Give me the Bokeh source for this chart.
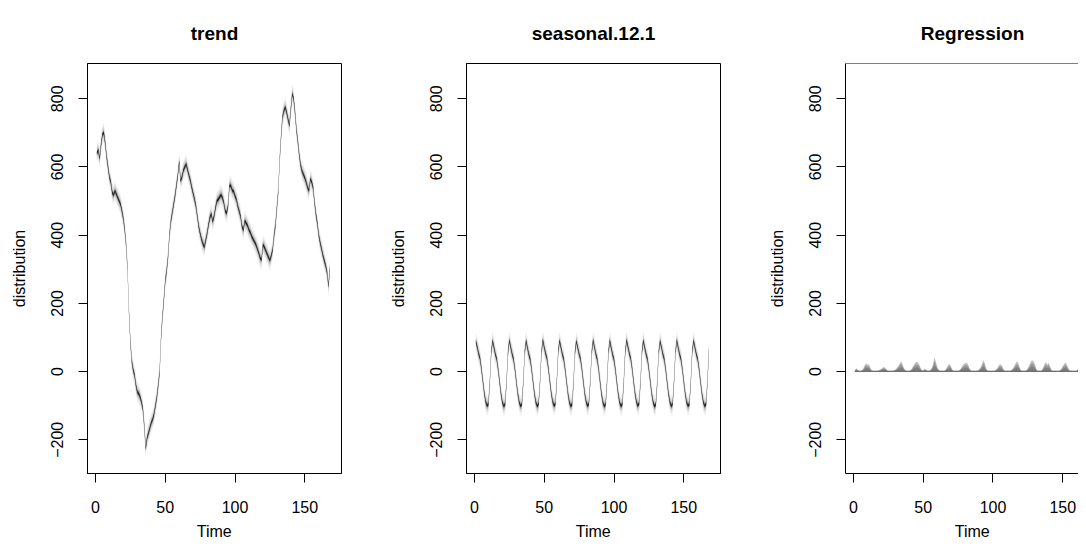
import numpy as np
from bokeh.plotting import figure
from bokeh.layouts import row
from bokeh.models import Range1d, FixedTicker, Span, Title
from bokeh.embed import file_html
from bokeh.resources import INLINE

# ---------------- data ----------------
time = list(range(1, 169))

trend = [
    640, 650, 625, 665, 695, 700, 670, 630, 600, 570, 555, 525,
    518, 530, 520, 510, 500, 490, 470, 448, 415, 370, 300, 175,
    90, 30, 5, -10, -40, -60, -65, -75, -90, -110, -160, -225,
    -195, -180, -165, -150, -140, -125, -100, -75, -40, 0, 100, 160,
    210, 265, 295, 335, 400, 440, 465, 490, 515, 545, 575, 615,
    560, 570, 590, 600, 608, 592, 575, 560, 540, 522, 505, 485,
    455, 425, 405, 388, 375, 365, 385, 405, 430, 452, 462, 440,
    455, 480, 500, 505, 512, 518, 510, 495, 470, 465, 485, 545,
    545, 532, 528, 515, 505, 485, 470, 455, 425, 415, 442, 435,
    428, 415, 408, 396, 388, 380, 372, 360, 348, 333, 328, 372,
    365, 355, 345, 335, 326, 340, 358, 400, 430, 480, 530, 620,
    690, 745, 765, 775, 760, 740, 722, 770, 815, 800, 760, 710,
    675, 635, 605, 588, 578, 568, 555, 540, 530, 565, 555, 538,
    495, 460, 435, 400, 378, 360, 340, 325, 310, 290, 250, 305,
]

seasonal = [
    88, 72, 52, 38, 8, -28, -62, -88, -100, -96, -32, 56,
    90, 70, 50, 36, 6, -30, -65, -90, -102, -95, -30, 55,
    91, 71, 51, 37, 7, -29, -64, -89, -101, -96, -31, 57,
    90, 69, 49, 35, 5, -31, -66, -91, -102, -94, -29, 56,
    92, 71, 52, 38, 8, -28, -63, -88, -100, -95, -30, 58,
    90, 70, 50, 36, 6, -30, -65, -90, -101, -96, -31, 56,
    89, 70, 51, 37, 7, -29, -64, -89, -100, -95, -30, 55,
    91, 71, 50, 36, 6, -30, -65, -90, -102, -96, -32, 57,
    90, 69, 49, 35, 5, -31, -66, -91, -101, -95, -30, 56,
    92, 72, 52, 38, 8, -28, -63, -88, -100, -94, -29, 58,
    90, 70, 50, 36, 6, -30, -65, -90, -102, -96, -31, 56,
    89, 71, 51, 37, 7, -29, -64, -89, -101, -95, -30, 55,
    91, 70, 50, 36, 6, -30, -65, -90, -100, -96, -32, 57,
    90, 70, 50, 36, 6, -30, -65, -90, -101, -95, -25, 65,
]

regression_upper = [
    4, 10, 5, 2, 2, 3, 8, 18, 24, 20, 22, 12,
    4, 2, 2, 2, 2, 3, 5, 8, 12, 13, 10, 5,
    2, 2, 2, 2, 3, 6, 10, 16, 22, 30, 24, 12,
    5, 2, 2, 2, 4, 10, 18, 24, 28, 27, 22, 12,
    4, 3, 8, 6, 2, 2, 4, 10, 20, 42, 30, 14,
    6, 2, 2, 2, 2, 5, 12, 20, 22, 14, 5, 2,
    2, 2, 2, 4, 10, 16, 22, 25, 26, 22, 12, 4,
    2, 2, 2, 2, 3, 6, 12, 20, 33, 26, 10, 3,
    2, 2, 2, 2, 2, 5, 10, 16, 22, 20, 12, 4,
    2, 2, 2, 2, 3, 8, 14, 22, 30, 26, 14, 4,
    2, 2, 2, 4, 10, 18, 28, 33, 30, 22, 8, 2,
    2, 2, 4, 12, 22, 28, 20, 26, 14, 4, 2, 2,
    2, 2, 2, 3, 8, 16, 22, 27, 20, 10, 3, 2,
    2, 2, 2, 3, 8, 14, 20, 14, 6, 2, 2, 2,
]

titles = ["trend", "seasonal.12.1", "Regression"]
x_ticks = [0, 50, 100, 150]
y_ticks = [-200, 0, 200, 400, 600, 800]
x_label = "Time"
y_label = "distribution"

# ---------------- styling ----------------
FONT = "Liberation Sans"
Y0, Y1 = -299, 903.5
X0 = -5.7
FIG_H = 545
TOP = 63
FRAME_H = 410
LEFT = 87


def text_width(s, size, bold=False):
    # rough Arial/Liberation advance widths
    w = {"R": .722, "e": .556, "g": .611 if bold else .556, "r": .389 if bold else .333,
         "s": .556 if bold else .5, "i": .278 if bold else .222, "o": .611 if bold else .556,
         "n": .611 if bold else .556, "T": .611, "m": .889 if bold else .833,
         "t": .333 if bold else .278, "d": .611 if bold else .556, "a": .556,
         "l": .278 if bold else .222, ".": .278}
    return sum(w.get(c, .556) for c in s) * size


def make_fig(title, width, border_right, x_end):
    p = figure(width=width, height=FIG_H,
               x_range=Range1d(X0, x_end), y_range=Range1d(Y0, Y1),
               output_backend="svg", toolbar_location=None,
               min_border_left=LEFT, min_border_right=border_right,
               min_border_top=TOP, min_border_bottom=FIG_H - TOP - FRAME_H)
    tw = text_width(title, 19, bold=True)
    p.title = Title(text=title, align="left", offset=max(0, 127 - tw / 2),
                    vertical_align="top",
                    text_font=FONT, text_font_size="19px", text_font_style="bold",
                    text_color="black", standoff=36)
    # x axis label as a below title, centred on a 254px box
    lw = text_width(x_label, 16)
    xl = Title(text=x_label, align="left", offset=127 - lw / 2, vertical_align="bottom",
               text_font=FONT, text_font_size="16px", text_font_style="normal",
               text_color="black", standoff=10)
    p.add_layout(xl, "below")

    p.xgrid.visible = False
    p.ygrid.visible = False
    p.background_fill_color = "white"
    p.border_fill_color = "white"
    p.outline_line_color = "black"
    p.outline_line_width = 1
    for ax in (p.xaxis[0], p.yaxis[0]):
        ax.axis_line_color = "black"
        ax.major_tick_line_color = "black"
        ax.major_tick_out = 9
        ax.major_tick_in = 0
        ax.minor_tick_line_color = None
        ax.major_label_text_font = FONT
        ax.major_label_text_font_size = "16px"
        ax.major_label_text_color = "black"
        ax.axis_label_text_font = FONT
        ax.axis_label_text_font_size = "16px"
        ax.axis_label_text_font_style = "normal"
        ax.axis_label_text_color = "black"
    p.xaxis.ticker = FixedTicker(ticks=x_ticks)
    p.xaxis.major_label_standoff = 18
    p.yaxis.ticker = FixedTicker(ticks=y_ticks)
    p.yaxis.major_label_orientation = "vertical"
    p.yaxis.axis_label = y_label
    p.yaxis.major_label_standoff = 15
    p.yaxis.axis_label_standoff = 21
    return p


def draw_distribution(p, t, center, half_widths, alphas):
    c = np.array(center, dtype=float)
    for hw, a in zip(half_widths, alphas):
        p.varea(x=t, y1=c - hw, y2=c + hw, fill_color="black", fill_alpha=a)


hws = [30, 20, 12, 6.5, 3]
alphas = [0.05, 0.09, 0.16, 0.38, 0.82]

p1 = make_fig(titles[0], LEFT + 254 + 38, 38, 176.3)
draw_distribution(p1, time, trend, hws, alphas)

p2 = make_fig(titles[1], LEFT + 254 + 38, 38, 176.3)
draw_distribution(p2, time, seasonal, hws, alphas)

p3 = make_fig(titles[2], LEFT + 233, 0, 161.3)
p3.outline_line_color = None
p3.add_layout(Span(location=Y1, dimension="width", line_color="black", line_width=1))
hi = np.array(regression_upper, dtype=float)
zero = np.zeros_like(hi)
p3.varea(x=time, y1=zero - 1.5, y2=zero + 2.5, fill_color="#606060", fill_alpha=0.8)
for frac, a in zip([1.0, 0.75, 0.45], [0.4, 0.4, 0.45]):
    p3.varea(x=time, y1=zero, y2=hi * frac, fill_color="#606060", fill_alpha=a)

layout = row(p1, p2, p3)
open("out.html", "w").write(file_html(layout, INLINE))
